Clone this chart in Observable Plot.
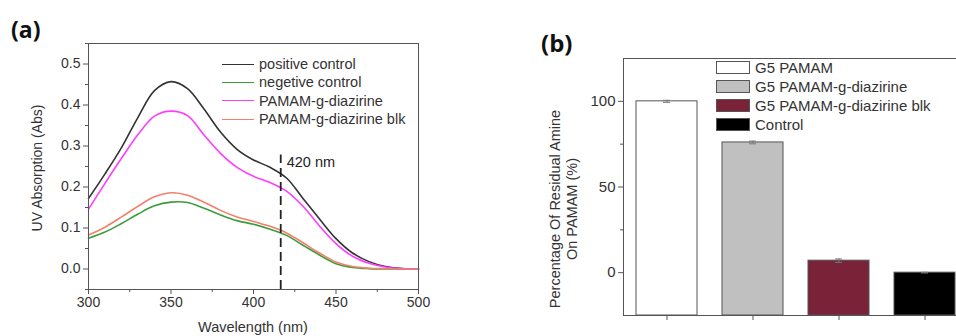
<!DOCTYPE html>
<html><head><meta charset="utf-8">
<script src="https://cdn.jsdelivr.net/npm/d3@7"></script>
<script src="https://cdn.jsdelivr.net/npm/@observablehq/plot@0.6"></script>
<style>
html,body{margin:0;padding:0;background:#fff;}
body{width:956px;height:336px;overflow:hidden;position:relative;font-family:"Liberation Sans",Arial,sans-serif;color:#333;}
.abs{position:absolute;white-space:nowrap;}
.panel{font-family:"Open Sans","DejaVu Sans",sans-serif;font-weight:700;color:#111;}
.rot{transform:translate(-50%,-50%) rotate(-90deg);text-align:center;}
.leg-a{font-size:14.5px;line-height:18.4px;}
.leg-b{font-size:15px;line-height:19px;}
#pa svg,#pb svg{max-width:none !important;}
</style></head><body>
<div id="pa" class="abs" style="left:0;top:0;width:480px;"></div>
<div id="pb" class="abs" style="left:480px;top:0;width:520px;"></div>
<div class="abs panel" style="left:11px;top:13px;font-size:23px;">(a)</div>
<div class="abs panel" style="left:541px;top:26px;font-size:24px;">(b)</div>
<div class="abs rot" id="ya" style="left:37px;top:168px;font-size:14px;"></div>
<div class="abs" id="xa" style="left:253px;top:327px;font-size:14.5px;transform:translate(-50%,-50%);"></div>
<div class="abs rot" id="yb" style="left:564px;top:209px;font-size:14.5px;line-height:17px;"></div>
<div class="abs leg-a" id="lega" style="left:222px;top:55px;"></div>
<div class="abs leg-b" id="legb" style="left:716px;top:58px;"></div>
<script>
// ---------- Panel (a) data ----------
const wavelengths = [300,310,320,330,340,350,360,370,380,390,400,410,420,430,440,450,460,470,480,490,500];
const positiveControl = [0.172,0.232,0.296,0.370,0.435,0.457,0.440,0.390,0.334,0.292,0.266,0.248,0.222,0.172,0.122,0.074,0.039,0.018,0.006,0.001,0.000];
const negetiveControl = [0.075,0.090,0.111,0.134,0.154,0.163,0.162,0.148,0.132,0.118,0.109,0.097,0.082,0.058,0.034,0.013,0.004,0.001,0.000,0.000,0.000];
const pamamDiazirine = [0.146,0.209,0.270,0.328,0.373,0.385,0.374,0.327,0.282,0.248,0.226,0.211,0.190,0.153,0.105,0.062,0.031,0.014,0.005,0.001,0.000];
const pamamDiazirineBlk = [0.083,0.102,0.127,0.153,0.176,0.186,0.180,0.163,0.143,0.127,0.116,0.104,0.088,0.064,0.039,0.017,0.006,0.002,0.001,0.000,0.000];
const seriesNames = ["positive control","negetive control","PAMAM-g-diazirine","PAMAM-g-diazirine blk"];
const seriesColors = ["#333333","#3c9c3c","#ff3cff","#f2806a"];
const xTicksA = [300,350,400,450,500];
const xMinorA = [325,375,425,475];
const yTicksA = [0.0,0.1,0.2,0.3,0.4,0.5];
const yMinorA = [-0.05,0.05,0.15,0.25,0.35,0.45,0.55];
const xDomainA = [300,500];
const yDomainA = [-0.05,0.55];
const markerWavelength = [416.5];
const markerRange = [-0.05,0.278];
const markerLabel = ["420 nm"];
const markerLabelY = [0.261];
const xTitleA = "Wavelength (nm)";
const yTitleA = "UV Absorption (Abs)";

// ---------- Panel (b) data ----------
const samples = ["G5 PAMAM","G5 PAMAM-g-diazirine","G5 PAMAM-g-diazirine blk","Control"];
const amineValues = [100,76,7,0];
const amineErrors = [0.6,0.8,1.0,0.2];
const barColors = ["#ffffff","#c0c0c0","#7a2338","#000000"];
const yTicksB = [0,50,100];
const yMinorB = [25,75];
const yDomainB = [-25,125];
const yTitleB = ["Percentage Of Residual Amine","On PAMAM (%)"];

const seriesValues = [positiveControl,negetiveControl,pamamDiazirine,pamamDiazirineBlk];
const lineRows = seriesNames.flatMap((s,k)=>wavelengths.map((w,i)=>({series:s,w,v:seriesValues[k][i]})));

const styleA = {fontFamily:'"Liberation Sans",Arial,sans-serif',fontSize:"14px",color:"#333",background:"transparent",overflow:"visible",maxWidth:"none"};

const plotA = Plot.plot({
  width:480,height:336,marginLeft:88,marginRight:62,marginTop:43,marginBottom:47,
  style:styleA,
  x:{domain:xDomainA},
  y:{domain:yDomainA},
  color:{domain:seriesNames,range:seriesColors},
  marks:[
    Plot.line(lineRows,{x:"w",y:"v",z:"series",stroke:"series",strokeWidth:1.6,curve:"catmull-rom"}),
    Plot.ruleX(markerWavelength,{x:d=>d,y1:markerRange[0],y2:markerRange[1],stroke:"#222",strokeWidth:1.8,strokeDasharray:"9,5"}),
    Plot.text(markerLabel,{x:markerWavelength[0],y:markerLabelY[0],text:d=>d,textAnchor:"start",dx:6,fill:"#222",fontSize:14.5}),
    Plot.frame({stroke:"#555"}),
    Plot.axisX({ticks:xTicksA,tickSize:5,tickPadding:3,label:null,stroke:"#555",fill:"#333"}),
    Plot.axisX({ticks:xMinorA,tickSize:3,tickFormat:()=>"",label:null,stroke:"#555"}),
    Plot.axisY({ticks:yTicksA,tickSize:5,tickPadding:3,label:null,tickFormat:d3.format(".1f"),stroke:"#555",fill:"#333"}),
    Plot.axisY({ticks:yMinorA,tickSize:3,tickFormat:()=>"",label:null,stroke:"#555"})
  ]
});
document.getElementById("pa").appendChild(plotA);

const idx = samples.map((_,i)=>i);
const plotB = Plot.plot({
  width:520,height:336,marginLeft:143,marginRight:32,marginTop:58,marginBottom:21,
  style:{...styleA,fontSize:"15px"},
  x:{domain:samples,paddingInner:0.292,paddingOuter:0.146,align:0.5},
  y:{domain:yDomainB},
  color:{domain:samples,range:barColors},
  marks:[
    Plot.barY(idx,{x:i=>samples[i],y1:()=>yDomainB[0],y2:i=>amineValues[i],fill:i=>samples[i],stroke:"#555",strokeWidth:1}),
    Plot.ruleX(idx,{x:i=>samples[i],y1:i=>amineValues[i]-amineErrors[i],y2:i=>amineValues[i]+amineErrors[i],stroke:"#777"}),
    Plot.tickY(idx,{x:i=>samples[i],y:i=>amineValues[i]+amineErrors[i],stroke:"#777",insetLeft:27,insetRight:27}),
    Plot.tickY(idx,{x:i=>samples[i],y:i=>amineValues[i]-amineErrors[i],stroke:"#777",insetLeft:27,insetRight:27}),
    Plot.frame({stroke:"#555"}),
    Plot.axisX({tickSize:5,tickFormat:()=>"",label:null,stroke:"#555"}),
    Plot.axisY({ticks:yTicksB,tickSize:5,tickPadding:3,label:null,stroke:"#555",fill:"#333"}),
    Plot.axisY({ticks:yMinorB,tickSize:3,tickFormat:()=>"",label:null,stroke:"#555"})
  ]
});
document.getElementById("pb").appendChild(plotB);

// titles
document.getElementById("xa").textContent = xTitleA;
document.getElementById("ya").textContent = yTitleA;
document.getElementById("yb").innerHTML = yTitleB.map(t=>`<div>${t}</div>`).join("");

// legend (a)
document.getElementById("lega").innerHTML = seriesNames.map((s,k)=>
  `<div style="display:flex;align-items:center;height:18.4px"><span style="display:inline-block;width:32px;height:0;border-top:1.6px solid ${seriesColors[k]};margin-right:5px"></span><span>${s}</span></div>`).join("");
// legend (b)
document.getElementById("legb").innerHTML = samples.map((s,k)=>
  `<div style="display:flex;align-items:center;height:19px"><span style="display:inline-block;box-sizing:border-box;width:34px;height:13.5px;background:${barColors[k]};border:1px solid #555;margin-right:5px"></span><span>${s}</span></div>`).join("");
</script>
</body></html>
